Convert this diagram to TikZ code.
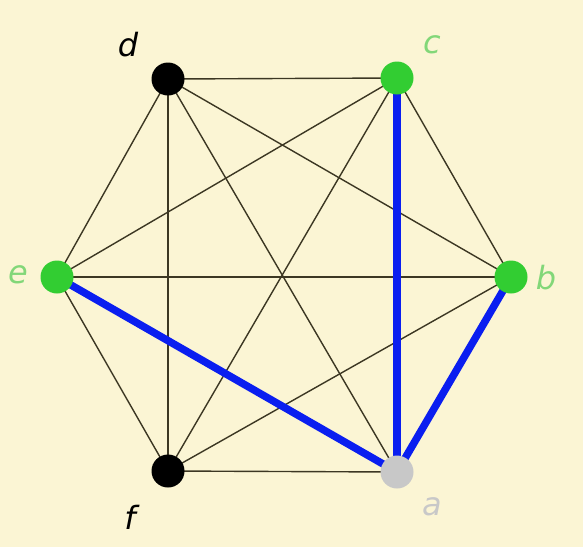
\documentclass[tikz,border=0pt]{standalone}
\usepackage{fontspec}
\setsansfont{DejaVu Sans}
\begin{document}
\begin{tikzpicture}[x=1pt,y=-1pt,
  vtx/.style={circle,inner sep=0pt,minimum size=33pt},
  lbl/.style={font=\sffamily\itshape\fontsize{32}{32}\selectfont,inner sep=0pt},
  edge/.style={line width=1.4pt,draw={rgb,255:red,60;green,55;blue,35}},
  hot/.style={line width=7.5pt,draw={rgb,255:red,10;green,30;blue,240}}]
\definecolor{bg}{RGB}{251,245,212}
\definecolor{vgreen}{RGB}{50,205,50}
\definecolor{lgreen}{RGB}{130,215,120}
\definecolor{vgray}{RGB}{200,200,200}
\fill[bg] (0,0) rectangle (583,547);
\useasboundingbox (0,0) rectangle (583,547);
\coordinate (d) at (168,79);
\coordinate (c) at (397,78);
\coordinate (e) at (57,277);
\coordinate (b) at (511,277);
\coordinate (f) at (168,471);
\coordinate (a) at (397,472);
\foreach \p/\q in {d/c,d/e,d/b,d/f,d/a,c/e,c/b,c/f,e/b,e/f,b/f,b/a,f/a}
  \draw[edge] (\p) -- (\q);
\draw[hot] (a) -- (c);
\draw[hot] (a) -- (b);
\draw[hot] (a) -- (e);
\node[vtx,fill=black] (nd) at (d) {};
\node[vtx,fill=vgreen] (nc) at (c) {};
\node[vtx,fill=vgreen] (ne) at (e) {};
\node[vtx,fill=vgreen] (nb) at (b) {};
\node[vtx,fill=black] (nf) at (f) {};
\node[vtx,fill=vgray] (na) at (a) {};
\node[lbl,text=black] (ld) at (128,45) {d};
\node[lbl,text=lgreen] (lc) at (432,45) {c};
\node[lbl,text=lgreen] (le) at (18,275) {e};
\node[lbl,text=lgreen] (lb) at (546,278) {b};
\node[lbl,text=black] (lf) at (130,517) {f};
\node[lbl,text=vgray] (la) at (432,507) {a};
\end{tikzpicture}
\end{document}
